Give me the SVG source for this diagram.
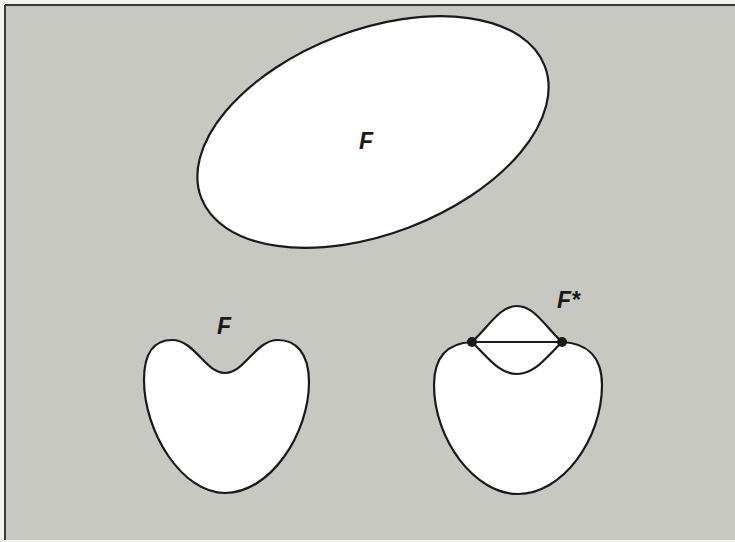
<svg xmlns="http://www.w3.org/2000/svg" width="735" height="542" viewBox="0 0 735 542">
<style>
.shape{fill:#ffffff;stroke:#1a1a1a;stroke-width:2.2;stroke-linejoin:round}
.line{fill:none;stroke:#1a1a1a;stroke-width:2.2}
.lbl{font-family:"Liberation Sans",Arial,sans-serif;font-style:italic;font-weight:bold;font-size:23px;fill:#1a1a1a}
.dot{fill:#1a1a1a}
</style>
<rect x="0" y="0" width="735" height="542" fill="#f2f2ee"/>
<rect x="5" y="5" width="730" height="535" fill="#c8c8c3"/>
<line x1="5" y1="5" x2="735" y2="5" stroke="#3a3a3a" stroke-width="2"/>
<line x1="5" y1="5" x2="5" y2="540" stroke="#3a3a3a" stroke-width="2"/>
<g id="ellipse-F">
<ellipse class="shape" cx="373" cy="132" rx="184" ry="102" transform="rotate(-21 373 132)"/>
<text class="lbl" x="359" y="149">F</text>
</g>
<g id="heart-F">
<path class="shape" d="M225,373 C205,373 195,340 172,340 C155,340 144,352 144,380 C144,432 182,493 225,493 C270,493 309,434 309,382 C309,352 295,340 278,340 C255,340 245,373 225,373 Z"/>
<text class="lbl" x="217" y="334">F</text>
</g>
<g id="hull-Fstar">
<path class="shape" d="M472,342 C490,325 500,306 517,306 C534,306 544,325 562,342 C584,343 602,354 602,385 C602,440 562,494 518,494 C475,494 434,440 434,385 C434,354 450,343 472,342 Z"/>
<text class="lbl" x="557" y="308">F*</text>
</g>
<g id="connectors">
<path class="line" d="M472,342 C490,360 500,374 517,374 C534,374 544,360 562,342"/>
<line class="line" x1="472" y1="342" x2="562" y2="342"/>
<circle class="dot" cx="472" cy="342" r="5"/>
<circle class="dot" cx="562" cy="342" r="5"/>
</g>
</svg>
